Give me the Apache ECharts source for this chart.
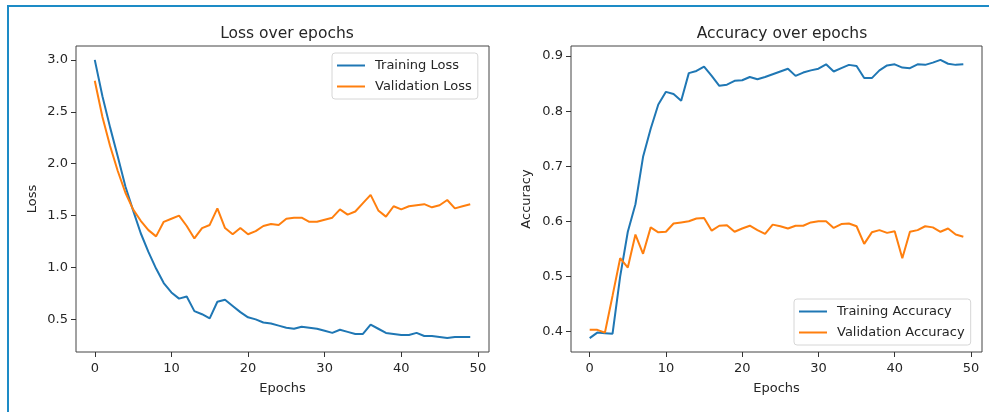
<!DOCTYPE html>
<html>
<head>
<meta charset="utf-8">
<title>Training history</title>
<script src="https://cdn.jsdelivr.net/npm/echarts@6/dist/echarts.min.js"></script>
<style>
  html, body { margin: 0; padding: 0; background: #ffffff; }
  #chart { width: 989px; height: 412px; }
</style>
</head>
<body>
<div id="chart"></div>
<script>
// Per-epoch training history
const epochs = [0,1,2,3,4,5,6,7,8,9,10,11,12,13,14,15,16,17,18,19,20,21,22,23,24,25,26,27,28,29,30,31,32,33,34,35,36,37,38,39,40,41,42,43,44,45,46,47,48,49];

const trainLoss = [3.00,2.65,2.35,2.07,1.78,1.55,1.33,1.15,0.99,0.85,0.76,0.70,0.72,0.58,0.55,0.51,0.67,0.69,0.63,0.57,0.52,0.50,0.47,0.46,0.44,0.42,0.41,0.43,0.42,0.41,0.39,0.37,0.40,0.38,0.36,0.36,0.45,0.41,0.37,0.36,0.35,0.35,0.37,0.34,0.34,0.33,0.32,0.33,0.33,0.33];
const valLoss = [2.80,2.45,2.17,1.93,1.72,1.56,1.45,1.36,1.30,1.44,1.47,1.50,1.40,1.28,1.38,1.41,1.57,1.38,1.32,1.38,1.32,1.35,1.40,1.42,1.41,1.47,1.48,1.48,1.44,1.44,1.46,1.48,1.56,1.51,1.54,1.62,1.70,1.55,1.49,1.59,1.56,1.59,1.60,1.61,1.58,1.60,1.65,1.57,1.59,1.61];

const trainAcc = [0.388,0.398,0.397,0.396,0.500,0.581,0.631,0.717,0.768,0.812,0.835,0.831,0.819,0.869,0.873,0.881,0.864,0.846,0.848,0.855,0.856,0.862,0.858,0.862,0.867,0.872,0.877,0.864,0.870,0.874,0.877,0.885,0.872,0.878,0.884,0.882,0.860,0.860,0.874,0.883,0.885,0.879,0.878,0.885,0.884,0.888,0.893,0.886,0.884,0.885];
const valAcc = [0.403,0.403,0.398,0.465,0.533,0.516,0.576,0.541,0.589,0.580,0.581,0.596,0.598,0.600,0.605,0.606,0.583,0.592,0.593,0.581,0.587,0.592,0.584,0.577,0.594,0.591,0.587,0.592,0.592,0.598,0.600,0.600,0.588,0.595,0.596,0.591,0.559,0.580,0.584,0.579,0.582,0.533,0.581,0.584,0.591,0.589,0.581,0.587,0.576,0.572];

// Tick labels
const epochTicks = [0, 10, 20, 30, 40, 50];
const lossTicks = [0.5, 1.0, 1.5, 2.0, 2.5, 3.0];
const accTicks = [0.4, 0.5, 0.6, 0.7, 0.8, 0.9];

const BLUE = '#1f77b4';
const ORANGE = '#ff7f0e';
const TEXT = '#262626';
const FONT = 'DejaVu Sans';

// axis range with a 5% margin around the data
function padded(arrs) {
  const all = [].concat(...arrs);
  const lo = Math.min(...all), hi = Math.max(...all);
  const p = (hi - lo) * 0.05;
  return [lo - p, hi + p];
}
const xRange = padded([epochs]);
const lossRange = padded([trainLoss, valLoss]);
const accRange = padded([trainAcc, valAcc]);

const pairs = (ys) => epochs.map((e, i) => [e, ys[i]]);

const chart = echarts.init(document.getElementById('chart'), null, { renderer: 'canvas' });

function xAxisFor(gridIndex) {
  return {
    type: 'value', gridIndex, position: 'bottom',
    min: xRange[0], max: xRange[1],
    name: 'Epochs', nameLocation: 'middle', nameGap: 30,
    nameTextStyle: { color: TEXT, fontFamily: FONT, fontSize: 13 },
    axisLine: { show: false, onZero: false },
    axisTick: { show: true, length: 5, customValues: epochTicks, lineStyle: { color: '#333', width: 1 } },
    axisLabel: { customValues: epochTicks, margin: 10, color: TEXT, fontFamily: FONT, fontSize: 13 },
    splitLine: { show: false }
  };
}
function yAxisFor(gridIndex, range, ticks, name, gap) {
  return {
    type: 'value', gridIndex, position: 'left',
    min: range[0], max: range[1],
    name, nameLocation: 'middle', nameGap: gap,
    nameTextStyle: { color: TEXT, fontFamily: FONT, fontSize: 13 },
    axisLine: { show: false, onZero: false },
    axisTick: { show: true, length: 5, customValues: ticks, lineStyle: { color: '#333', width: 1 } },
    axisLabel: { customValues: ticks, margin: 8, color: TEXT, fontFamily: FONT, fontSize: 13,
                 formatter: (v) => v.toFixed(1) },
    splitLine: { show: false }
  };
}
function legendFor(left, top, names) {
  return {
    orient: 'vertical', left, top,
    data: names,
    icon: 'rect', itemWidth: 28, itemHeight: 2, itemGap: 6,
    padding: [5, 6, 5, 5],
    backgroundColor: 'rgba(255,255,255,0.8)',
    borderColor: '#d6d6d6', borderWidth: 1, borderRadius: 3,
    textStyle: { color: TEXT, fontFamily: FONT, fontSize: 13, lineHeight: 15, padding: [0, 0, 0, 5] }
  };
}
function lineSeries(name, data, color, xi, yi) {
  return {
    type: 'line', name, data, xAxisIndex: xi, yAxisIndex: yi,
    symbol: 'none', smooth: false,
    lineStyle: { color, width: 2 }, itemStyle: { color },
    animation: false
  };
}

chart.setOption({
  animation: false,
  textStyle: { fontFamily: FONT },
  title: [
    { text: 'Loss over epochs', left: 282, top: 21, textAlign: 'center',
      textStyle: { color: TEXT, fontFamily: FONT, fontSize: 15.5, fontWeight: 'normal' } },
    { text: 'Accuracy over epochs', left: 777, top: 21, textAlign: 'center',
      textStyle: { color: TEXT, fontFamily: FONT, fontSize: 15.5, fontWeight: 'normal' } }
  ],
  grid: [
    { left: 76, top: 46, width: 413, height: 306, show: true, borderColor: '#444', borderWidth: 1, backgroundColor: 'transparent' },
    { left: 571, top: 46, width: 411, height: 306, show: true, borderColor: '#444', borderWidth: 1, backgroundColor: 'transparent' }
  ],
  xAxis: [xAxisFor(0), xAxisFor(1)],
  yAxis: [
    yAxisFor(0, lossRange, lossTicks, 'Loss', 37),
    yAxisFor(1, accRange, accTicks, 'Accuracy', 38)
  ],
  legend: [
    legendFor(332, 53, ['Training Loss', 'Validation Loss']),
    legendFor(794, 299, ['Training Accuracy', 'Validation Accuracy'])
  ],
  series: [
    lineSeries('Training Loss', pairs(trainLoss), BLUE, 0, 0),
    lineSeries('Validation Loss', pairs(valLoss), ORANGE, 0, 0),
    lineSeries('Training Accuracy', pairs(trainAcc), BLUE, 1, 1),
    lineSeries('Validation Accuracy', pairs(valAcc), ORANGE, 1, 1)
  ],
  graphic: [
    // frame edges around the figure
    { type: 'rect', shape: { x: 7, y: 5, width: 982, height: 2 }, style: { fill: '#1d8bc6' }, silent: true },
    { type: 'rect', shape: { x: 7, y: 5, width: 2, height: 407 }, style: { fill: '#1d8bc6' }, silent: true }
  ]
});
</script>
</body>
</html>
